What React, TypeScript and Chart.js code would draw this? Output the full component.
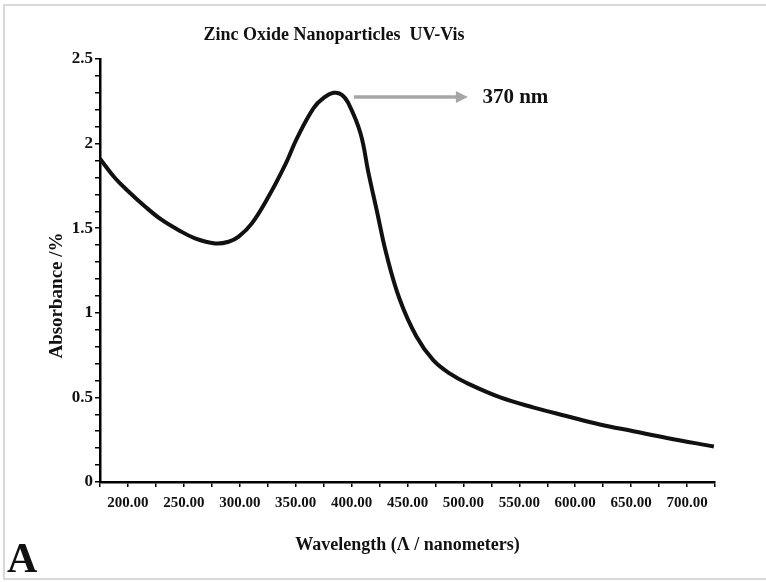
import React, { useEffect, useRef } from "react";
import { Chart, registerables } from "chart.js";

Chart.register(...registerables);

const chartTitle = "Zinc Oxide Nanoparticles  UV-Vis";
const xTitle = "Wavelength (\u039B / nanometers)";
const yTitle = "Absorbance /%";
const panelLabel = "A";
const peakLabel = "370 nm";

const wavelengths = [175, 188, 200, 215, 230, 245, 260, 278, 290, 299, 311, 326, 341, 351, 366, 375, 384, 391, 397, 408, 415, 423, 431, 443, 458, 473, 488, 503, 533, 563, 592, 622, 652, 682, 724];
const absorbance = [1.91, 1.80, 1.72, 1.63, 1.55, 1.49, 1.44, 1.41, 1.42, 1.45, 1.53, 1.69, 1.88, 2.03, 2.21, 2.27, 2.30, 2.29, 2.24, 2.06, 1.83, 1.59, 1.35, 1.08, 0.86, 0.72, 0.64, 0.585, 0.50, 0.44, 0.39, 0.34, 0.30, 0.26, 0.21];

const xMin = 175;
const xMax = 725;
const xStep = 25;
const xLabelEvery = 50;
const yMin = 0;
const yMax = 2.5;
const yStep = 0.1;
const yLabelEvery = 0.5;

// annotation arrow (data coordinates)
const arrowStartNm = 402;
const arrowEndNm = 504;
const arrowValue = 2.275;
const peakLabelNm = 517;

const FONT = "'Liberation Serif', 'Times New Roman', serif";

const overlayPlugin = {
  id: "overlay",
  beforeDraw(chart: any) {
    const ctx = chart.ctx;
    ctx.save();
    ctx.fillStyle = "#ffffff";
    ctx.fillRect(0, 0, chart.width, chart.height);
    ctx.strokeStyle = "#d9d9d9";
    ctx.lineWidth = 2;
    ctx.strokeRect(4, 5, chart.width + 10, chart.height - 8);
    ctx.restore();
  },
  afterDraw(chart: any) {
    const ctx = chart.ctx;
    const xs = chart.scales.x;
    const ys = chart.scales.y;
    const area = chart.chartArea;
    ctx.save();
    ctx.fillStyle = "#111";
    ctx.font = `bold 18px ${FONT}`;
    ctx.textAlign = "center";
    ctx.textBaseline = "middle";
    ctx.fillText(chartTitle, 334, 35);

    ctx.save();
    ctx.translate(57, (area.top + area.bottom) / 2 + 25);
    ctx.rotate(-Math.PI / 2);
    ctx.font = `bold 19px ${FONT}`;
    ctx.textAlign = "center";
    ctx.textBaseline = "middle";
    ctx.fillText(yTitle, 0, 0);
    ctx.restore();

    const ay = ys.getPixelForValue(arrowValue);
    const ax0 = xs.getPixelForValue(arrowStartNm);
    const ax1 = xs.getPixelForValue(arrowEndNm);
    ctx.strokeStyle = "#a6a6a6";
    ctx.fillStyle = "#a6a6a6";
    ctx.lineWidth = 3.5;
    ctx.beginPath();
    ctx.moveTo(ax0, ay);
    ctx.lineTo(ax1 - 10, ay);
    ctx.stroke();
    ctx.beginPath();
    ctx.moveTo(ax1, ay);
    ctx.lineTo(ax1 - 12, ay - 6);
    ctx.lineTo(ax1 - 12, ay + 6);
    ctx.closePath();
    ctx.fill();

    ctx.fillStyle = "#111";
    ctx.font = `bold 21px ${FONT}`;
    ctx.textAlign = "left";
    ctx.textBaseline = "middle";
    ctx.fillText(peakLabel, xs.getPixelForValue(peakLabelNm), ay + 1);

    ctx.font = `bold 42px ${FONT}`;
    ctx.textAlign = "left";
    ctx.textBaseline = "alphabetic";
    ctx.fillText(panelLabel, 7, 572);
    ctx.restore();
  },
};

export default function App() {
  const ref = useRef<HTMLCanvasElement | null>(null);
  useEffect(() => {
    if (!ref.current) return;
    const chart = new Chart(ref.current, {
      type: "line",
      data: {
        datasets: [
          {
            data: wavelengths.map((w, i) => ({ x: w, y: absorbance[i] })),
            borderColor: "#111111",
            borderWidth: 4,
            pointRadius: 0,
            tension: 0.4,
            fill: false,
          },
        ],
      },
      options: {
        animation: false,
        responsive: true,
        maintainAspectRatio: false,
        layout: { padding: { top: 59, right: 51, left: 0, bottom: 0 } },
        plugins: { legend: { display: false }, tooltip: { enabled: false }, title: { display: false } },
        scales: {
          x: {
            type: "linear",
            min: xMin,
            max: xMax,
            afterFit: (s: any) => {
              s.height = 100;
            },
            border: { color: "#000", width: 2.5 },
            grid: { drawOnChartArea: false, drawTicks: true, tickLength: 5, color: "#000", tickColor: "#000", lineWidth: 1.5 },
            ticks: {
              stepSize: xStep,
              autoSkip: false,
              maxRotation: 0,
              minRotation: 0,
              padding: 7,
              color: "#111",
              font: { family: FONT, size: 15, weight: "bold" },
              callback: (v: any) => {
                const n = Number(v);
                if (n === xMin || n === xMax) return "";
                return Math.abs(n % xLabelEvery) < 1e-6 ? n.toFixed(2) : "";
              },
            },
            title: {
              display: true,
              text: xTitle,
              color: "#111",
              font: { family: FONT, size: 18, weight: "bold" },
              padding: { top: 0, bottom: 26 },
            },
          },
          y: {
            type: "linear",
            min: yMin,
            max: yMax,
            afterFit: (s: any) => {
              s.width = 100;
            },
            border: { color: "#000", width: 2.5 },
            grid: { drawOnChartArea: false, drawTicks: true, tickLength: 5, color: "#000", tickColor: "#000", lineWidth: 1.5 },
            ticks: {
              stepSize: yStep,
              autoSkip: false,
              padding: 2,
              color: "#111",
              font: { family: FONT, size: 17, weight: "bold" },
              callback: (v: any) => {
                const n = Math.round(Number(v) * 10) / 10;
                const r = n / yLabelEvery;
                return Math.abs(r - Math.round(r)) < 1e-6 ? String(n) : "";
              },
            },
          },
        },
      },
      plugins: [overlayPlugin],
    } as any);
    return () => chart.destroy();
  }, []);
  return (
    <div style={{ position: "absolute", left: 0, top: 0, width: 766, height: 582, background: "#fff" }}>
      <canvas ref={ref} />
    </div>
  );
}
